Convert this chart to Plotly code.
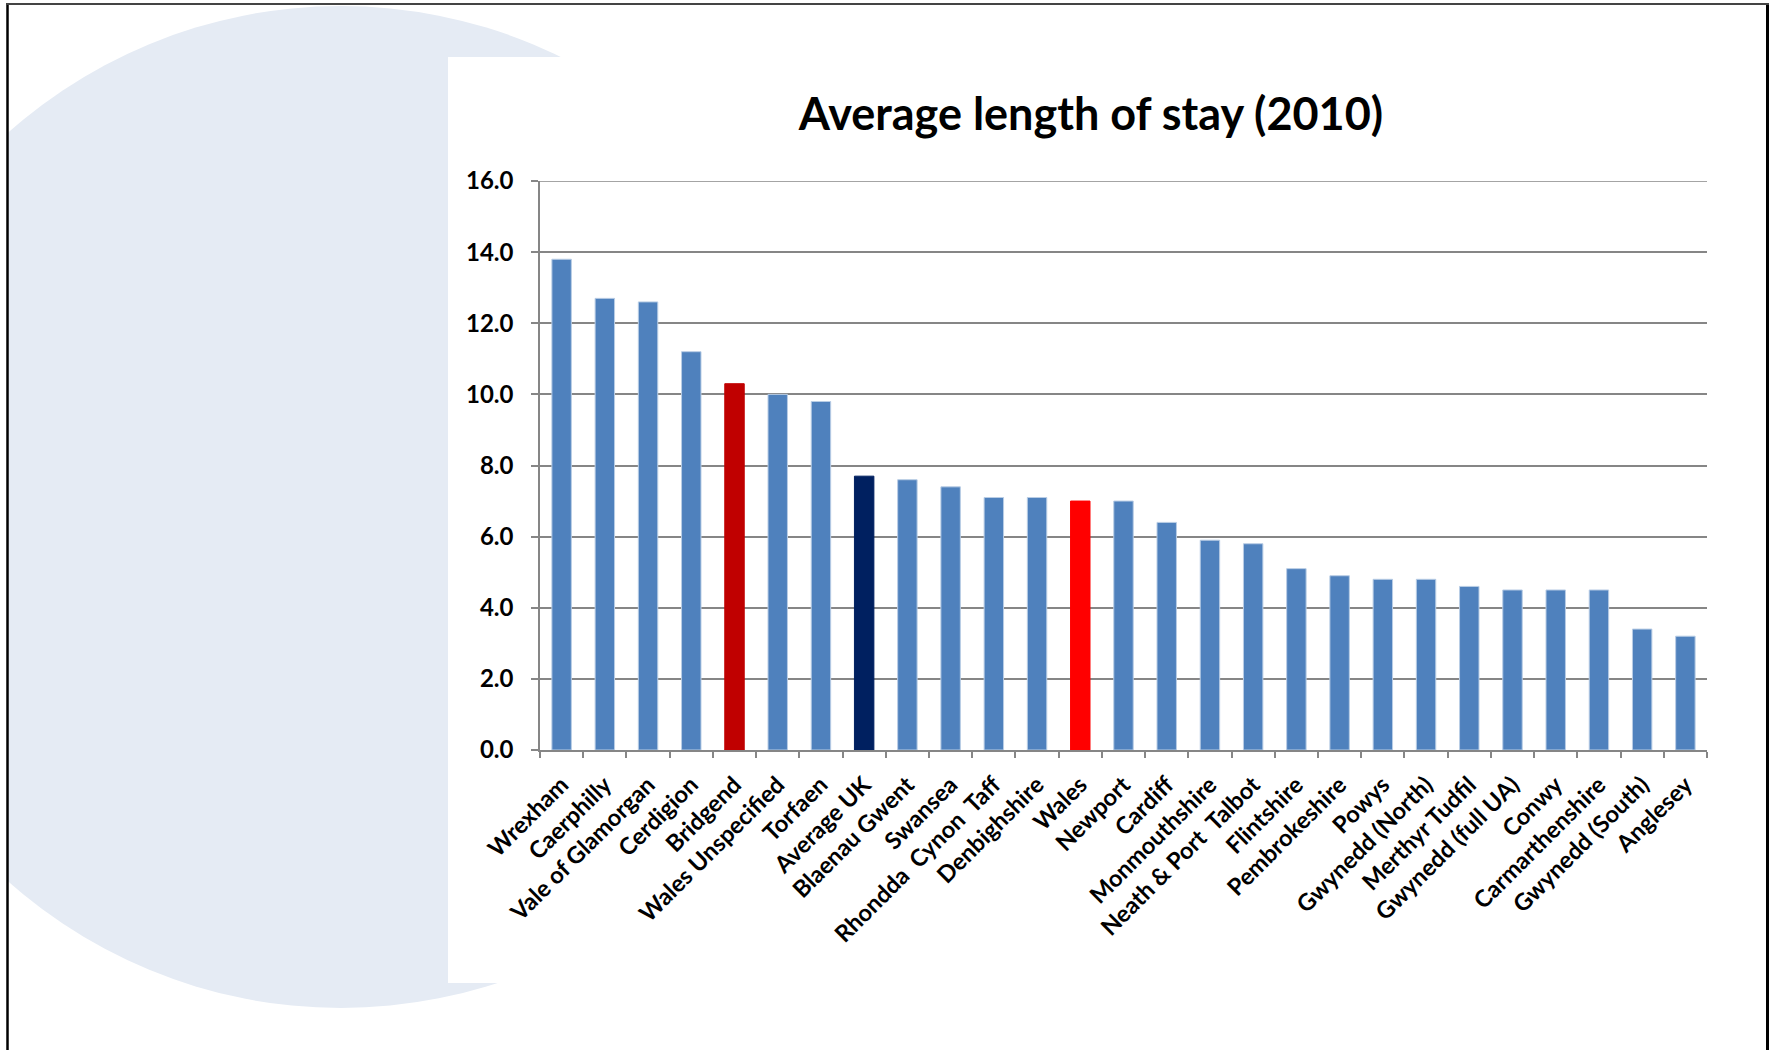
import plotly.graph_objects as go

# Average length of stay by area, 2010
areas = [
    "Wrexham", "Caerphilly", "Vale of Glamorgan", "Cerdigion", "Bridgend",
    "Wales Unspecified", "Torfaen", "Average UK", "Blaenau Gwent", "Swansea",
    "Rhondda  Cynon  Taff", "Denbighshire", "Wales", "Newport", "Cardiff",
    "Monmouthshire", "Neath & Port  Talbot", "Flintshire", "Pembrokeshire",
    "Powys", "Gwynedd (North)", "Merthyr Tudfil", "Gwynedd (full UA)", "Conwy",
    "Carmarthenshire", "Gwynedd (South)", "Anglesey",
]
avg_stay = [
    13.8, 12.7, 12.6, 11.2, 10.3,
    10.0, 9.8, 7.7, 7.6, 7.4,
    7.1, 7.1, 7.0, 7.0, 6.4,
    5.9, 5.8, 5.1, 4.9,
    4.8, 4.8, 4.6, 4.5, 4.5,
    4.5, 3.4, 3.2,
]
y_ticks = [0, 2, 4, 6, 8, 10, 12, 14, 16]

BASE = "#4F81BD"
HIGHLIGHT = {"Bridgend": "#C00000", "Average UK": "#002060", "Wales": "#FF0000"}
bar_colors = [HIGHLIGHT.get(a, BASE) for a in areas]
edge_colors = [HIGHLIGHT.get(a, "#B9CDE5") for a in areas]

W, H = 1771, 1050
ML, MR, MT, MB = 540, 64, 181, 300
PW, PH = W - ML - MR, H - MT - MB


def px_x(x):
    return (x - ML) / PW


def px_y(y):
    return (H - MB - y) / PH


GRID = "#868686"
FONT = "Lato"

fig = go.Figure(
    go.Bar(
        x=areas,
        y=avg_stay,
        marker=dict(color=bar_colors, line=dict(color=edge_colors, width=1)),
        width=0.45,
    )
)

shapes = [
    # pale backdrop disc
    dict(type="circle", xref="paper", yref="paper", layer="below",
         x0=px_x(341 - 501), x1=px_x(341 + 501),
         y0=px_y(507 + 501), y1=px_y(507 - 501),
         fillcolor="#E5EBF4", line=dict(width=0)),
    # white chart panel
    dict(type="rect", xref="paper", yref="paper", layer="below",
         x0=px_x(448), x1=px_x(1780), y0=px_y(983), y1=px_y(57),
         fillcolor="white", line=dict(width=0)),
    # blank margin outside the frame
    dict(type="rect", xref="paper", yref="paper", layer="below",
         x0=px_x(-10), x1=px_x(7), y0=px_y(1060), y1=px_y(-10),
         fillcolor="white", line=dict(width=0)),
    # top gridline at the range limit
    dict(type="line", xref="paper", yref="y", layer="below",
         x0=0, x1=1, y0=16, y1=16,
         line=dict(color=GRID, width=1.5)),
    # frame
    dict(type="line", xref="paper", yref="paper", layer="above",
         x0=px_x(7.5), x1=px_x(7.5), y0=px_y(3), y1=px_y(1060),
         line=dict(color="black", width=2.5)),
    dict(type="line", xref="paper", yref="paper", layer="above",
         x0=px_x(1767.5), x1=px_x(1767.5), y0=px_y(3), y1=px_y(1060),
         line=dict(color="black", width=3)),
    dict(type="line", xref="paper", yref="paper", layer="above",
         x0=px_x(6.5), x1=px_x(1769), y0=px_y(4), y1=px_y(4),
         line=dict(color="#444444", width=2)),
]

fig.update_layout(
    width=W,
    height=H,
    margin=dict(l=ML, r=MR, t=MT, b=MB, pad=0),
    paper_bgcolor="white",
    plot_bgcolor="rgba(0,0,0,0)",
    showlegend=False,
    shapes=shapes,
    title=dict(
        text="Average length of stay (2010)",
        xref="container", yref="container",
        x=1091 / W, y=1 - 114 / H,
        xanchor="center", yanchor="middle",
        font=dict(family=FONT, size=45, color="black", weight=700),
    ),
)

fig.update_yaxes(
    range=[0, 16],
    tickvals=y_ticks,
    tickformat=".1f",
    showgrid=True,
    gridcolor=GRID,
    gridwidth=1.5,
    showline=True,
    linecolor=GRID,
    linewidth=1.5,
    ticks="outside",
    ticklen=7,
    tickcolor=GRID,
    tickwidth=1.5,
    ticklabelstandoff=13,
    zeroline=False,
    tickfont=dict(family=FONT, size=24, color="black", weight=700),
)

fig.update_xaxes(
    type="category",
    tickangle=-45,
    showgrid=False,
    showline=True,
    linecolor=GRID,
    linewidth=1.5,
    ticks="outside",
    tickson="boundaries",
    ticklen=6,
    tickcolor=GRID,
    tickwidth=1.5,
    ticklabelstandoff=10,
    tickfont=dict(family=FONT, size=23.5, color="black", weight=700),
)

fig.write_html("out.html")
